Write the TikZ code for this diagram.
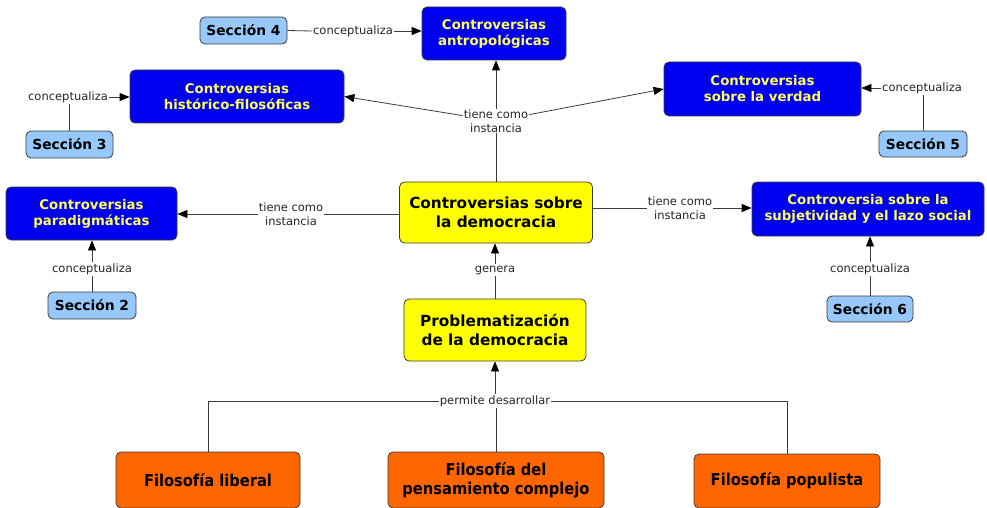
\documentclass[tikz,border=0pt]{standalone}
\usepackage{fontspec}
\setmainfont{DejaVu Sans}
\newfontfamily\condf{DejaVu Sans Condensed}
\usetikzlibrary{arrows.meta}
\definecolor{cblue}{RGB}{0,0,240}
\definecolor{ctext}{RGB}{255,255,90}
\definecolor{csec}{RGB}{150,200,250}
\definecolor{cyel}{RGB}{255,255,0}
\definecolor{corange}{RGB}{255,102,0}
\definecolor{cline}{RGB}{60,60,60}
\tikzset{
  base/.style={draw=cline, line width=0.8pt, rounded corners=5pt, align=center, inner sep=0pt},
  bluebox/.style={base, fill=cblue, text=ctext, font=\fontsize{13.3}{16}\selectfont\bfseries},
  secbox/.style={base, fill=csec, text=black, font=\fontsize{13.8}{15}\selectfont\bfseries},
  yelbox/.style={base, fill=cyel, text=black, font=\fontsize{15.3}{19}\selectfont\bfseries},
  orbox/.style={base, fill=corange, text=black, font=\condf\fontsize{16.3}{19.5}\selectfont\bfseries},
  lbl/.style={fill=white, inner sep=1pt, align=center, font=\fontsize{11.5}{13.5}\selectfont, text=black!85},
  conn/.style={draw=cline, line width=0.8pt},
  arr/.style={conn, -{Triangle[length=10pt,width=8pt,color=black]}},
}
\begin{document}
\begin{tikzpicture}[x=1pt,y=-1pt]
\fill[white] (0,0) rectangle (987,508);
\useasboundingbox (0,0) rectangle (987,508);
% concept nodes
\node[secbox, minimum width=87pt, minimum height=27pt] (s4) at (243.5,30.5) {Sección 4};
\node[bluebox, minimum width=144pt, minimum height=53pt] (antro) at (494,33.5) {Controversias\\antropológicas};
\node[bluebox, minimum width=214pt, minimum height=53pt] (hist) at (237,96.5) {Controversias\\histórico-filosóficas};
\node[secbox, minimum width=87pt, minimum height=27pt] (s3) at (69.5,144.5) {Sección 3};
\node[bluebox, minimum width=197pt, minimum height=54pt] (verdad) at (762.5,89) {Controversias\\sobre la verdad};
\node[secbox, minimum width=88pt, minimum height=26pt] (s5) at (923,144) {Sección 5};
\node[bluebox, minimum width=171pt, minimum height=53pt] (parad) at (91.5,213.5) {Controversias\\paradigmáticas};
\node[secbox, minimum width=88pt, minimum height=27pt] (s2) at (92,305.5) {Sección 2};
\node[yelbox, minimum width=193pt, minimum height=61pt] (demo) at (496,212.5) {Controversias sobre\\la democracia};
\node[bluebox, minimum width=232pt, minimum height=54pt] (subj) at (868,209) {Controversia sobre la\\subjetividad y el lazo social};
\node[secbox, minimum width=86pt, minimum height=26pt] (s6) at (870,309) {Sección 6};
\node[yelbox, minimum width=182pt, minimum height=62pt] (prob) at (495,330) {Problematización\\de la democracia};
\node[orbox, minimum width=184pt, minimum height=56pt] (lib) at (208,480) {Filosofía liberal};
\node[orbox, minimum width=216pt, minimum height=56pt] (comp) at (496,480) {Filosofía del\\pensamiento complejo};
\node[orbox, minimum width=186pt, minimum height=54pt] (pop) at (787,481) {Filosofía populista};
% linking phrases
\node[lbl] (c4) at (353,31) {conceptualiza};
\node[lbl] (c3) at (68,97) {conceptualiza};
\node[lbl] (c5) at (922,88) {conceptualiza};
\node[lbl] (c2) at (92,269) {conceptualiza};
\node[lbl] (c6) at (870,269) {conceptualiza};
\node[lbl] (tciT) at (496,121) {tiene como\\instancia};
\node[lbl] (tciL) at (291,214) {tiene como\\instancia};
\node[lbl] (tciR) at (680,208) {tiene como\\instancia};
\node[lbl] (gen) at (495,270) {genera};
\node[lbl] (perm) at (495,401) {permite desarrollar};
% connectors
\draw[conn] (s4.east) -- (c4.west);
\draw[arr] (c4.east) -- (antro.west |- c4.east);
\draw[conn] (s3.north) -- (s3.north |- c3.south);
\draw[arr] (c3.east) -- (hist.west |- c3.east);
\draw[conn] (s5.north) -- (s5.north |- c5.south);
\draw[arr] (c5.west) -- (verdad.east |- c5.west);
\draw[conn] (s2.north) -- (c2.south);
\draw[arr] (c2.north) -- (parad.south -| c2.north);
\draw[conn] (s6.north) -- (c6.south);
\draw[arr] (c6.north) -- (subj.south -| c6.north);
\draw[conn] (demo.north) -- (tciT.south);
\draw[arr] (tciT.north) -- (antro.south -| tciT.north);
\draw[arr] (tciT) -- (hist.east);
\draw[arr] (tciT) -- (verdad.west);
\draw[conn] (demo.west |- tciL.east) -- (tciL.east);
\draw[arr] (tciL.west) -- (parad.east |- tciL.west);
\draw[conn] (demo.east |- tciR.west) -- (tciR.west);
\draw[arr] (tciR.east) -- (subj.west |- tciR.east);
\draw[conn] (prob.north) -- (gen.south);
\draw[arr] (gen.north) -- (demo.south -| gen.north);
\draw[conn] (lib.north) |- (perm.west);
\draw[conn] (pop.north) |- (perm.east);
\draw[conn] (comp.north) -- (comp.north |- perm.south);
\draw[arr] (perm.north) -- (prob.south -| perm.north);
\end{tikzpicture}
\end{document}
